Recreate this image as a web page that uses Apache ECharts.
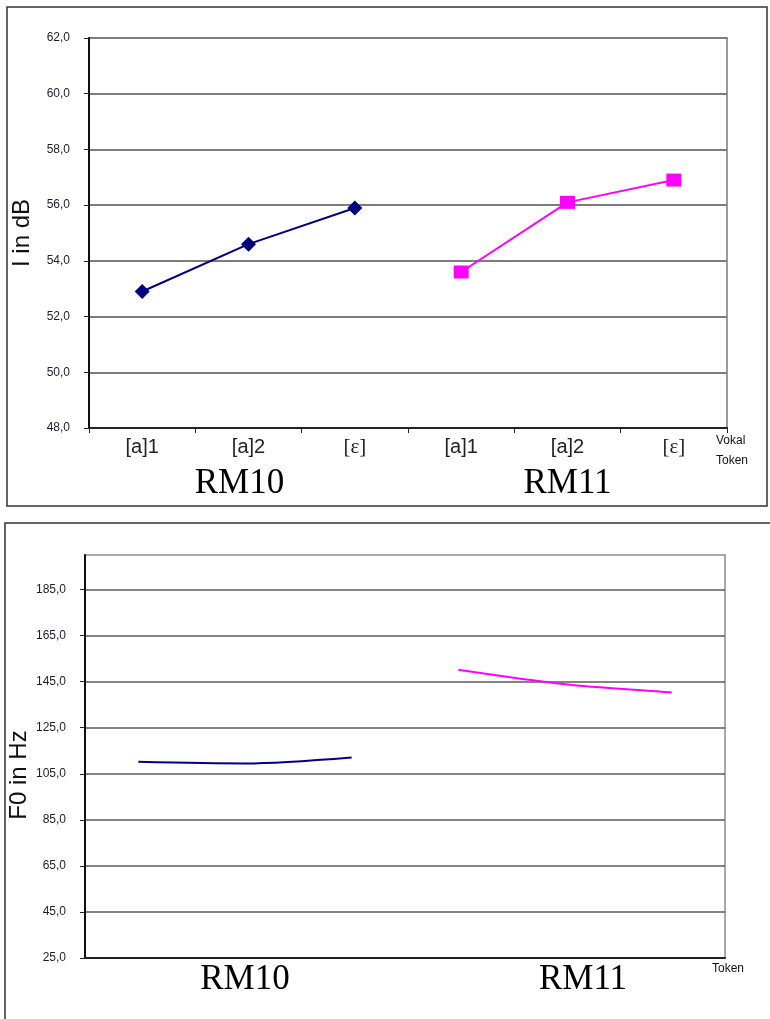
<!DOCTYPE html>
<html>
<head>
<meta charset="utf-8">
<script src="https://cdn.jsdelivr.net/npm/echarts@6/dist/echarts.min.js"></script>
<style>
html,body{margin:0;padding:0;background:#fff;}
#c{width:770px;height:1019px;}
</style>
</head>
<body>
<div id="c"></div>
<script>
// ---- data ----
const tokens = ['[a]1', '[a]2', '[ε]', '[a]1', '[a]2', '[ε]'];
const speakers = ['RM10', 'RM11'];
const intensityRM10 = [52.9, 54.6, 55.9];
const intensityRM11 = [53.6, 56.1, 56.9];
const f0RM10 = [110.2, 109.5, 112.1];
const f0RM11 = [150.2, 143.9, 140.3];
const intensityTicks = [48, 50, 52, 54, 56, 58, 60, 62];
const f0Ticks = [25, 45, 65, 85, 105, 125, 145, 165, 185];
const f0Top = 200;

// ---- build ----
const fmt = v => v.toFixed(1).replace('.', ',');
const toPairs = (arr, offset) => arr.map((v, i) => [i + offset, v]);
const sans = '"Liberation Sans", Arial, sans-serif';
const serif = '"Liberation Serif", "Times New Roman", serif';
const spk = { fontFamily: serif, fontSize: 35, color: '#000' };

const chart = echarts.init(document.getElementById('c'));
chart.setOption({
  animation: false,
  backgroundColor: '#fff',
  grid: [
    { left: 89, top: 38, width: 638, height: 390, show: true, borderColor: '#9a9a9a', borderWidth: 2 },
    { left: 85, top: 555, width: 640, height: 403, show: true, borderColor: '#a8a8a8', borderWidth: 2 }
  ],
  xAxis: [
    {
      gridIndex: 0, type: 'category', data: tokens, boundaryGap: true,
      axisLine: { lineStyle: { color: '#222', width: 2 } },
      axisTick: { show: true, length: 5, lineStyle: { color: '#222', width: 1 } },
      axisLabel: {
        margin: 9, color: '#222', fontSize: 20, fontFamily: sans,
        formatter: v => v === '[ε]' ? '{s|' + v + '}' : v,
        rich: { s: { fontFamily: serif, fontSize: 21, color: '#222' } }
      },
      name: 'Vokal\nToken', nameLocation: 'end', nameGap: -11,
      nameTextStyle: { align: 'left', verticalAlign: 'top', fontSize: 12, lineHeight: 20, fontFamily: sans, color: '#111', padding: [3, 0, 0, 0] }
    },
    {
      gridIndex: 0, type: 'category', data: speakers, position: 'bottom',
      axisLine: { show: false }, axisTick: { show: false },
      axisLabel: {
        margin: 38, color: '#000', fontSize: 35, fontFamily: serif,
        formatter: v => v === 'RM10' ? '{l|' + v + '}' : '{n|' + v + '}',
        rich: { l: Object.assign({ padding: [0, 18, 0, 0] }, spk), n: spk }
      }
    },
    {
      gridIndex: 1, type: 'category', data: tokens, boundaryGap: true,
      axisLine: { lineStyle: { color: '#222', width: 2 } },
      axisTick: { show: false },
      axisLabel: { show: false },
      name: 'Token', nameLocation: 'end', nameGap: -13,
      nameTextStyle: { align: 'left', verticalAlign: 'top', fontSize: 12, lineHeight: 14, fontFamily: sans, color: '#111', padding: [4, 0, 0, 0] }
    },
    {
      gridIndex: 1, type: 'category', data: speakers, position: 'bottom',
      axisLine: { show: false }, axisTick: { show: false },
      axisLabel: {
        margin: 4, color: '#000', fontSize: 35, fontFamily: serif,
        formatter: v => v === 'RM11' ? '{r|' + v + '}' : '{n|' + v + '}',
        rich: { r: Object.assign({ padding: [0, 0, 0, 36] }, spk), n: spk }
      }
    }
  ],
  yAxis: [
    {
      gridIndex: 0, type: 'value',
      min: intensityTicks[0], max: intensityTicks[intensityTicks.length - 1],
      interval: intensityTicks[1] - intensityTicks[0],
      axisLine: { show: true, lineStyle: { color: '#111', width: 2 } },
      axisTick: { show: true, length: 5, lineStyle: { color: '#222' } },
      axisLabel: { margin: 19, color: '#1c1c2c', fontSize: 12, fontFamily: sans, formatter: fmt },
      splitLine: { show: true, lineStyle: { color: '#7c7c7c', width: 2 } }
    },
    {
      gridIndex: 1, type: 'value',
      min: f0Ticks[0], max: f0Top,
      interval: f0Ticks[1] - f0Ticks[0],
      axisLine: { show: true, lineStyle: { color: '#111', width: 2 } },
      axisTick: { show: true, length: 5, lineStyle: { color: '#222' } },
      axisLabel: { margin: 19, color: '#1c1c2c', fontSize: 12, fontFamily: sans, formatter: fmt, showMaxLabel: false },
      splitLine: { show: true, showMaxLine: false, lineStyle: { color: '#5a5a5a', width: 1.5 } }
    }
  ],
  series: [
    {
      type: 'line', xAxisIndex: 0, yAxisIndex: 0, data: toPairs(intensityRM10, 0),
      symbol: 'diamond', symbolSize: 15, itemStyle: { color: '#000080' },
      lineStyle: { color: '#000080', width: 2 }
    },
    {
      type: 'line', xAxisIndex: 0, yAxisIndex: 0, data: toPairs(intensityRM11, 3),
      symbol: 'rect', symbolSize: [15, 13], itemStyle: { color: '#ff00ff' },
      lineStyle: { color: '#ff00ff', width: 2 }
    },
    {
      type: 'line', xAxisIndex: 2, yAxisIndex: 1, data: toPairs(f0RM10, 0),
      showSymbol: false, smooth: 0.3, lineStyle: { color: '#000080', width: 2 }
    },
    {
      type: 'line', xAxisIndex: 2, yAxisIndex: 1, data: toPairs(f0RM11, 3),
      showSymbol: false, smooth: 0.3, lineStyle: { color: '#ff00ff', width: 2 }
    }
  ],
  graphic: [
    { type: 'rect', shape: { x: 7, y: 7, width: 760, height: 499 }, style: { fill: 'none', stroke: '#333', lineWidth: 1.5 }, silent: true },
    { type: 'rect', shape: { x: 5, y: 523, width: 780, height: 520 }, style: { fill: 'none', stroke: '#333', lineWidth: 1.5 }, silent: true },
    { type: 'text', x: 22, y: 233, rotation: Math.PI / 2, style: { text: 'I in dB', font: '24px ' + sans, fill: '#111', align: 'center', verticalAlign: 'middle' } },
    { type: 'text', x: 19, y: 775, rotation: Math.PI / 2, style: { text: 'F0 in Hz', font: '24px ' + sans, fill: '#111', align: 'center', verticalAlign: 'middle' } }
  ]
});
</script>
</body>
</html>
